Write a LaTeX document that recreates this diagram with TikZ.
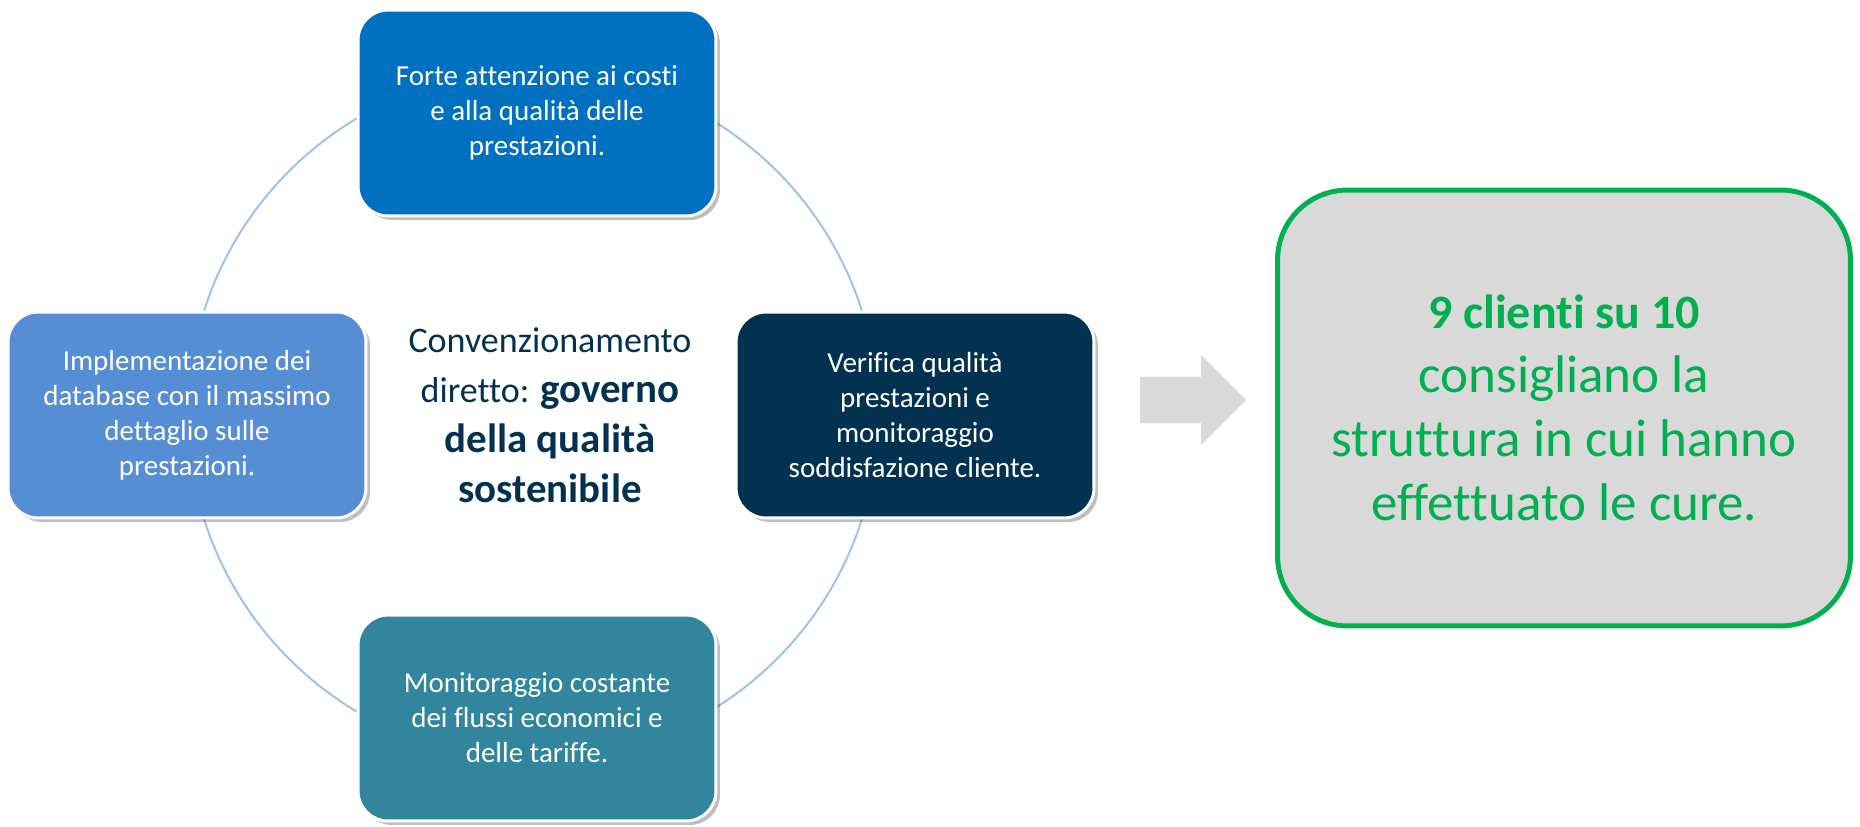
\documentclass[tikz,border=0pt]{standalone}
\usepackage{fontspec}
\setmainfont{Carlito}[Ligatures=NoCommon]
\usetikzlibrary{shadows}

\definecolor{topblue}{HTML}{0070C0}
\definecolor{midblue}{HTML}{558ED5}
\definecolor{navy}{HTML}{033150}
\definecolor{teal}{HTML}{31859C}
\definecolor{ringblue}{HTML}{9CC3F0}
\definecolor{okgreen}{HTML}{00B050}
\definecolor{lightgray}{HTML}{D9D9D9}

\tikzset{
  card/.style={rounded corners=0.6cm, draw=white, line width=0.06cm,
    minimum width=7.16cm, minimum height=4.12cm, inner sep=0pt,
    text=white, align=center, font=\fontsize{16.5}{19.9}\selectfont,
    drop shadow={shadow xshift=0.08cm, shadow yshift=-0.08cm, opacity=0.25, fill=black}},
  resultbox/.style={rounded corners=1.4cm, draw=okgreen, fill=lightgray,
    line width=0.1cm, minimum width=11.46cm, minimum height=8.72cm,
    text=okgreen, align=center, font=\fontsize{30.2}{36.4}\selectfont},
}

\begin{document}
\begin{tikzpicture}[x=0.02cm, y=0.02cm]
  \useasboundingbox (0,0) rectangle (1860,826);

  % thin ring behind the four cards
  \draw[ringblue, line width=0.04cm] (533,411) circle (6.9cm);

  % the four cards round the ring
  \foreach \name/\x/\y/\col/\txt in {
      costi/537/713/topblue/{Forte attenzione ai costi\\e alla qualità delle\\prestazioni.},
      database/187/411/midblue/{Implementazione dei\\database con il massimo\\dettaglio sulle\\prestazioni.},
      verifica/915/411/navy/{Verifica qualità\\prestazioni e\\monitoraggio\\soddisfazione cliente.},
      flussi/537/108/teal/{Monitoraggio costante\\dei flussi economici e\\delle tariffe.}} {
    \node[card, fill=\col] (\name) at (\x,\y) {\txt};
  }

  % text in the middle of the ring
  \node[text=navy, align=center, font=\fontsize{20.5}{28.5}\selectfont] (hub) at (550,411)
    {Convenzionamento\\diretto: {\fontsize{23.3}{28.5}\selectfont\bfseries governo}\\
     {\fontsize{23.3}{28.5}\selectfont\bfseries della qualità}\\
     {\fontsize{23.3}{28.5}\selectfont\bfseries sostenibile}};

  % grey block arrow
  \fill[lightgray] (1140,449) -- (1201,449) -- (1201,471) -- (1246,426)
    -- (1201,381) -- (1201,403) -- (1140,403) -- cycle;

  % result box
  \node[resultbox] (result) at (1564,418)
    {{\fontsize{27.3}{36.4}\selectfont\bfseries 9 clienti su 10}\\consigliano la\\
     struttura in cui hanno\\effettuato le cure.};
\end{tikzpicture}
\end{document}
